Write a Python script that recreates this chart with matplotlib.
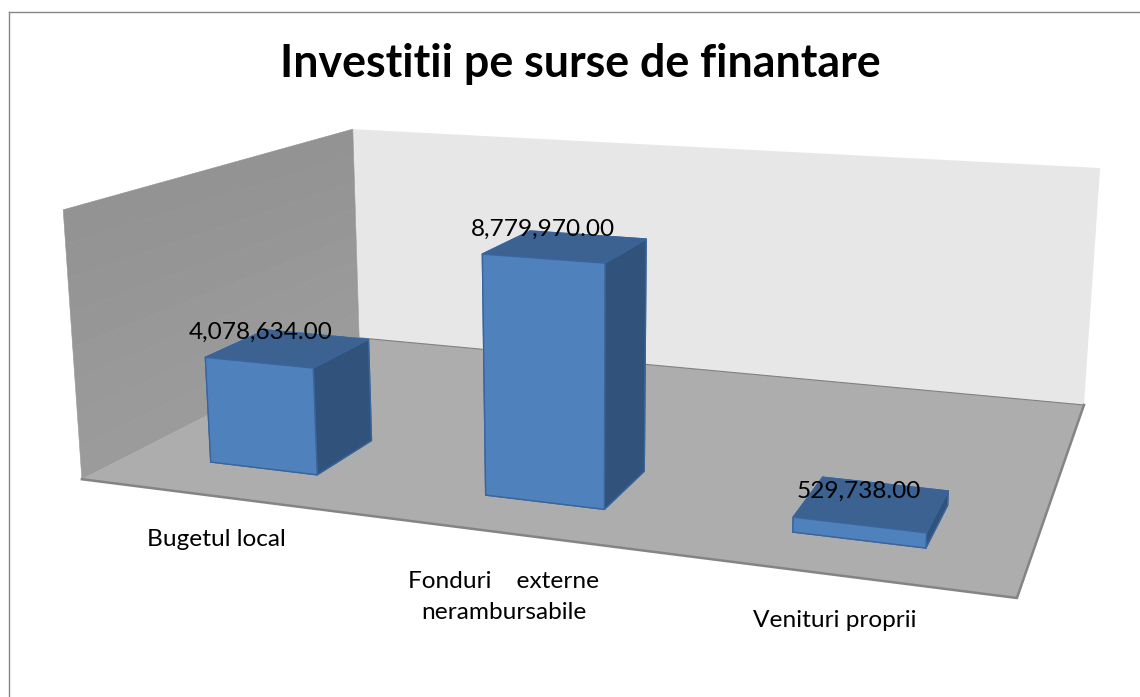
"""
Column chart in the old Excel 3-D style. Uses mplot3d with a fixed camera,
the camera is fitted to where the corners of the chart box have to land.
"""
import numpy as np
import matplotlib
matplotlib.use('Agg')
import matplotlib.pyplot as plt
from matplotlib.lines import Line2D
from mpl_toolkits.mplot3d import proj3d

W, H = 1140, 697

# data
title = 'Investitii pe surse de finantare'
categories = ['Bugetul local', 'Fonduri    externe\nnerambursabile', 'Venituri proprii']
values = [4078634.0, 8779970.0, 529738.0]
zmax = 10000000.0

# chart box corners as (cat, depth, wall height) and where they sit in pixels
box_corners = [(0, 0, 0), (3, 0, 0), (3, 1, 0), (0, 1, 0), (0, 0, 1), (0, 1, 1), (3, 1, 1)]
box_pixels = [(82, 479), (1017, 598), (1084, 405), (359, 338), (63, 210), (353, 129), (1100, 168)]

# text spots in pixels (centre x, baseline of last line)
cat_xy = [(216, 546), (504, 619), (835, 627)]
val_offsets = [(-28, 9), (-23, 11), (-14, 6)]

# colours
left_wall_shades = ['#9b9b9b', '#9a9a9a', '#999999', '#989898', '#969696', '#959595', '#949494', '#939393']
back_wall_col = '#e7e7e7'
floor_col = '#adadad'
floor_line = '#848484'
# -z, +z, -y, +y, -x, +x
bar_faces = ['#31527a', '#3b6291', '#4f81bd', '#31527a', '#31527a', '#31527a']
bar_edge = '#3a659c'

plt.rcParams['font.family'] = ['Lato', 'DejaVu Sans']

fig = plt.figure(figsize=(W / 100, H / 100), dpi=100, facecolor='white')
ax = fig.add_axes([0, 0, 1, 1], projection='3d')
ax.apply_aspect = lambda position=None: None  # keep the full figure, no square box
ax.set_axis_off()
ax.patch.set_visible(False)
ax.computed_zorder = False

# fit the camera (3x4) from the box corners
A, b = [], []
for (X, Y, Z), (u, v) in zip(box_corners, box_pixels):
    A.append([X, Y, Z, 1, 0, 0, 0, 0, -u * X, -u * Y, -u * Z])
    b.append(u)
    A.append([0, 0, 0, 0, X, Y, Z, 1, -v * X, -v * Y, -v * Z])
    b.append(v)
p = np.linalg.lstsq(np.array(A, float), np.array(b, float), rcond=None)[0]
P = np.append(p, 1).reshape(3, 4)
P[:, 2] = P[:, 2] / zmax

# pixels -> the 2d view box of the axes
x0, x1 = ax.viewLim.intervalx
y0, y1 = ax.viewLim.intervaly
M = np.array([
    x0 * P[2] + (x1 - x0) / W * P[0],
    y1 * P[2] - (y1 - y0) / H * P[1],
    [0, 0, 0, -1.0],  # gives -1/w, so bigger is further away, for sorting the faces
    P[2],
])
ax.get_proj = lambda: M
ax.M = M

# floor
gx, gy = np.meshgrid([0, 3], [0, 1])
ax.plot_surface(gx, gy, np.zeros_like(gx), color=floor_col, shade=False, linewidth=0, zorder=2)
ax.plot([0, 3, 3], [0, 0, 1], [0, 0, 0], color=floor_line, lw=1.8, zorder=3)
ax.plot([0, 3], [1, 1], [0, 0], color='#808080', lw=0.8, zorder=3)

# back wall
gx, gz = np.meshgrid([0, 3], [0, zmax])
ax.plot_surface(gx, np.ones_like(gx), gz, color=back_wall_col, shade=False, linewidth=0, zorder=1)

# left wall, bands from the bottom up
n = len(left_wall_shades)
gy, gz = np.meshgrid([0, 1], np.arange(n + 1) / n * zmax)
cols = np.array([[matplotlib.colors.to_rgba(c)] for c in left_wall_shades])
ax.plot_surface(np.zeros_like(gy), gy, gz, facecolors=cols, rstride=1, cstride=1,
                shade=False, linewidth=0.4, zorder=1)

# bars
pos = np.arange(len(values)) + 0.3
ax.bar3d(pos, np.full(3, 0.15), np.zeros(3), np.full(3, 0.4), np.full(3, 0.2), values,
         color=bar_faces * len(values), edgecolor=bar_edge, linewidth=1.0, shade=False, zorder=4)

# value labels, start from the middle of the bar top
for i, val in enumerate(values):
    vx, vy, _ = proj3d.proj_transform(i + 0.5, 0.25, val, M)
    ax.annotate(f'{val:,.2f}', (vx, vy), xytext=(val_offsets[i][0] * 0.72, val_offsets[i][1] * 0.72),
                textcoords='offset points', ha='center', va='baseline', fontsize=17.6,
                color='black', zorder=6, annotation_clip=False)

# category labels and title
for cat, (cx, cy) in zip(categories, cat_xy):
    fig.text(cx / W, 1 - cy / H, cat, ha='center', va='baseline', fontsize=17.6,
             color='black', linespacing=1.6)
fig.text(580 / W, 1 - 77 / H, title, ha='center', va='baseline', fontsize=32.2,
         fontweight='bold', color='black')

# chart area border, only top and left are inside the crop
fig.add_artist(Line2D([9 / W, 9 / W], [0, 1 - 12 / H], color='#868686', lw=1.0))
fig.add_artist(Line2D([9 / W, 1], [1 - 12 / H, 1 - 12 / H], color='#868686', lw=1.0))

fig.savefig('out.png', dpi=100)
